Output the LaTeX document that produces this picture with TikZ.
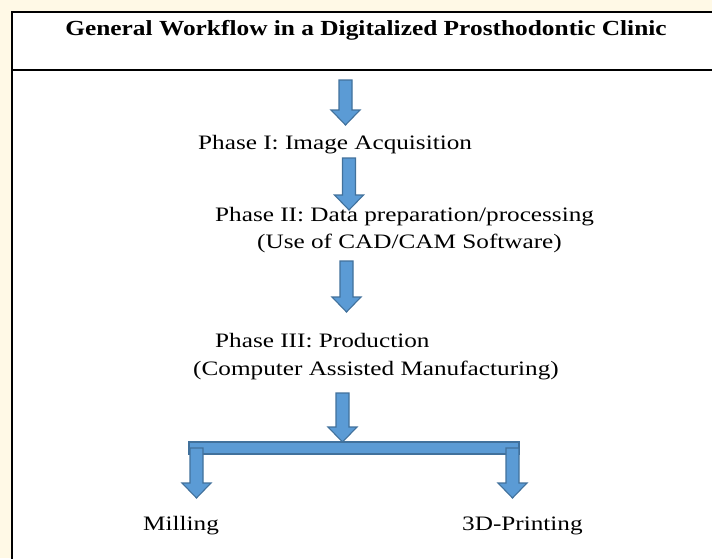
\documentclass[tikz,border=0pt]{standalone}
\usepackage{fontspec}
\setmainfont{Liberation Serif}[FakeStretch=1.23]
\newfontfamily\titlefont{Liberation Serif}[FakeStretch=1.18]

\definecolor{paper}{HTML}{FFF9E6}
\definecolor{arrowfill}{HTML}{5B9BD5}
\definecolor{arrowline}{HTML}{41719C}

\tikzset{
  pics/blockarrow/.style={code={
    \path[arrowbody] (-6.5,0) -- (6.5,0) -- (6.5,#1-15) -- (14.5,#1-15)
      -- (0,#1) -- (-14.5,#1-15) -- (-6.5,#1-15) -- cycle;
  }}
}

\begin{document}
\begin{tikzpicture}[
    x=1pt, y=-1pt,
      phase/.style={anchor=base west, inner sep=0pt, font=\fontsize{20.5}{24}\selectfont},
      heading/.style={anchor=base, inner sep=0pt, font=\titlefont\fontsize{21.5}{24}\selectfont\bfseries},
      arrowbody/.style={fill=arrowfill, draw=arrowline, line width=1.1pt, line join=miter}
  ]
      \useasboundingbox (0,0) rectangle (712,558);
      \fill[paper] (0,0) rectangle (712,558);

      % Frame and title row
      \draw[fill=white, line width=2pt] (12,12) -- (720,12) -- (720,570) -- (12,570) -- cycle;
      \draw[line width=2pt] (12,70) -- (720,70);
      \node (title) at (366,35) [heading] {General Workflow in a Digitalized Prosthodontic Clinic};

      % Phase I
      \pic at (345.5,80) {blockarrow=45};
      \node (phaseone) at (198,149) [phase] {Phase I: Image Acquisition};

      % Phase II
      \pic at (349,158) {blockarrow=52};
      \node (phasetwo) at (215,221) [phase] {Phase II: Data preparation/processing};
      \node (cadcam) at (257,248) [phase] {(Use of CAD/CAM Software)};

      % Phase III
      \pic at (346.5,261) {blockarrow=51};
      \node (phasethree) at (215,347) [phase] {Phase III: Production};
      \node (cam) at (193,375) [phase] {(Computer Assisted Manufacturing)};

      % Split into the two production routes
      \pic at (342.5,393) {blockarrow=49};
      \path[arrowbody] (189,442) rectangle (519,454);
      \pic at (196.5,448) {blockarrow=50};
      \pic at (512.5,448) {blockarrow=50};

      % Routes
      \node (milling) at (143,530) [phase] {Milling};
      \node (printing) at (462,530) [phase] {3D-Printing};
  \end{tikzpicture}
\end{document}
